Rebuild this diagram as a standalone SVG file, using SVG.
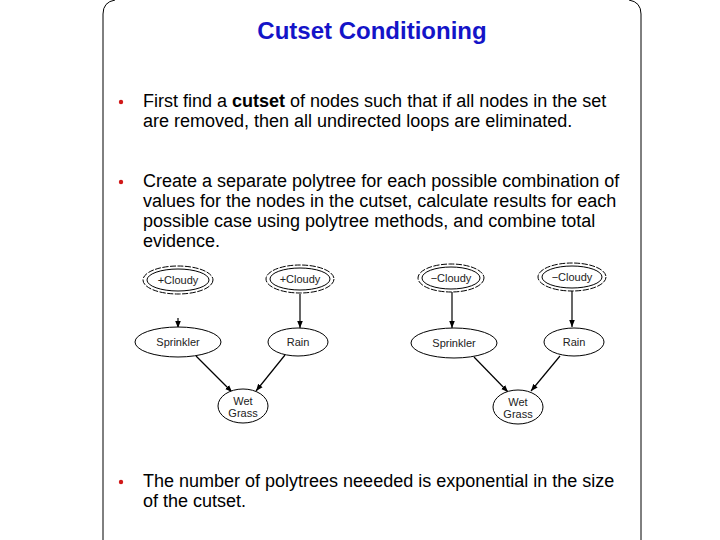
<svg xmlns="http://www.w3.org/2000/svg" width="720" height="540" viewBox="0 0 720 540">
<defs>
<marker id="ah" viewBox="0 0 10 10" refX="10" refY="5" markerWidth="7" markerHeight="7" orient="auto" markerUnits="userSpaceOnUse"><path d="M0,1 L10,5 L0,9 Z" fill="#000"/></marker>
<style>
.t{font-family:"Liberation Sans",Arial,sans-serif;font-size:18px;fill:#000}
.ti{font-family:"Liberation Sans",Arial,sans-serif;font-size:24px;font-weight:bold;fill:#1414c8}
.n{fill:#fff;stroke:#000;stroke-width:1}
.o{fill:none;stroke:#000;stroke-width:1;stroke-dasharray:6 1.5}
.l{font-family:"Liberation Sans",Arial,sans-serif;font-size:11px;fill:#222;text-anchor:middle}
.e{stroke:#000;stroke-width:1.2;fill:none;marker-end:url(#ah)}
.b{fill:#d01818}
</style>
</defs>
<rect width="720" height="540" fill="#fff"/>
<path d="M103,560 V14 Q103,2 115,0 M641,560 V14 Q641,2 629,0" fill="none" stroke="#000" stroke-width="1"/>
<text class="ti" x="372" y="39" text-anchor="middle">Cutset Conditioning</text>
<g id="bullets">
<circle class="b" cx="121" cy="102" r="2.2"/>
<text class="t" x="143" y="107">First find a <tspan font-weight="bold">cutset</tspan> of nodes such that if all nodes in the set</text>
<text class="t" x="143" y="127">are removed, then all undirected loops are eliminated.</text>
<circle class="b" cx="121" cy="182" r="2.2"/>
<text class="t" x="143" y="187">Create a separate polytree for each possible combination of</text>
<text class="t" x="143" y="207">values for the nodes in the cutset, calculate results for each</text>
<text class="t" x="143" y="227">possible case using polytree methods, and combine total</text>
<text class="t" x="143" y="247">evidence.</text>
<circle class="b" cx="121" cy="482" r="2.2"/>
<text class="t" x="143" y="487">The number of polytrees neeeded is exponential in the size</text>
<text class="t" x="143" y="507">of the cutset.</text>
</g>
<g id="connectors">
<line class="e" x1="178" y1="318" x2="178" y2="328"/>
<line class="e" x1="300" y1="294" x2="300" y2="328"/>
<line class="e" x1="196" y1="356" x2="232" y2="392"/>
<line class="e" x1="285" y1="355" x2="256" y2="391"/>
<line class="e" x1="452" y1="292" x2="452" y2="328"/>
<line class="e" x1="572" y1="291" x2="572" y2="327"/>
<line class="e" x1="474" y1="357" x2="508" y2="392"/>
<line class="e" x1="560" y1="356" x2="531" y2="391"/>
</g>
<g id="n_cloudy1"><ellipse class="o" cx="178" cy="280" rx="35" ry="14"/><ellipse class="n" cx="178" cy="280" rx="31" ry="11"/><text class="l" x="178" y="284">+Cloudy</text></g>
<g id="n_cloudy2"><ellipse class="o" cx="300" cy="279" rx="34" ry="14"/><ellipse class="n" cx="300" cy="279" rx="30" ry="11"/><text class="l" x="300" y="283">+Cloudy</text></g>
<g id="n_sprinkler1"><ellipse class="n" cx="178" cy="342" rx="43" ry="15"/><text class="l" x="178" y="346">Sprinkler</text></g>
<g id="n_rain1"><ellipse class="n" cx="298" cy="342" rx="30" ry="14"/><text class="l" x="298" y="346">Rain</text></g>
<g id="n_wet1"><ellipse class="n" cx="243" cy="406" rx="25" ry="17"/><text class="l" x="243" y="405">Wet</text><text class="l" x="243" y="417">Grass</text></g>
<g id="n_cloudy3"><ellipse class="o" cx="451" cy="278" rx="33" ry="14"/><ellipse class="n" cx="451" cy="278" rx="29" ry="11"/><text class="l" x="451" y="282">−Cloudy</text></g>
<g id="n_cloudy4"><ellipse class="o" cx="572" cy="277" rx="34" ry="14"/><ellipse class="n" cx="572" cy="277" rx="30" ry="11"/><text class="l" x="572" y="281">−Cloudy</text></g>
<g id="n_sprinkler2"><ellipse class="n" cx="454" cy="343" rx="43" ry="15"/><text class="l" x="454" y="347">Sprinkler</text></g>
<g id="n_rain2"><ellipse class="n" cx="574" cy="342" rx="30" ry="14"/><text class="l" x="574" y="346">Rain</text></g>
<g id="n_wet2"><ellipse class="n" cx="518" cy="407" rx="25" ry="17"/><text class="l" x="518" y="406">Wet</text><text class="l" x="518" y="418">Grass</text></g>
</svg>
